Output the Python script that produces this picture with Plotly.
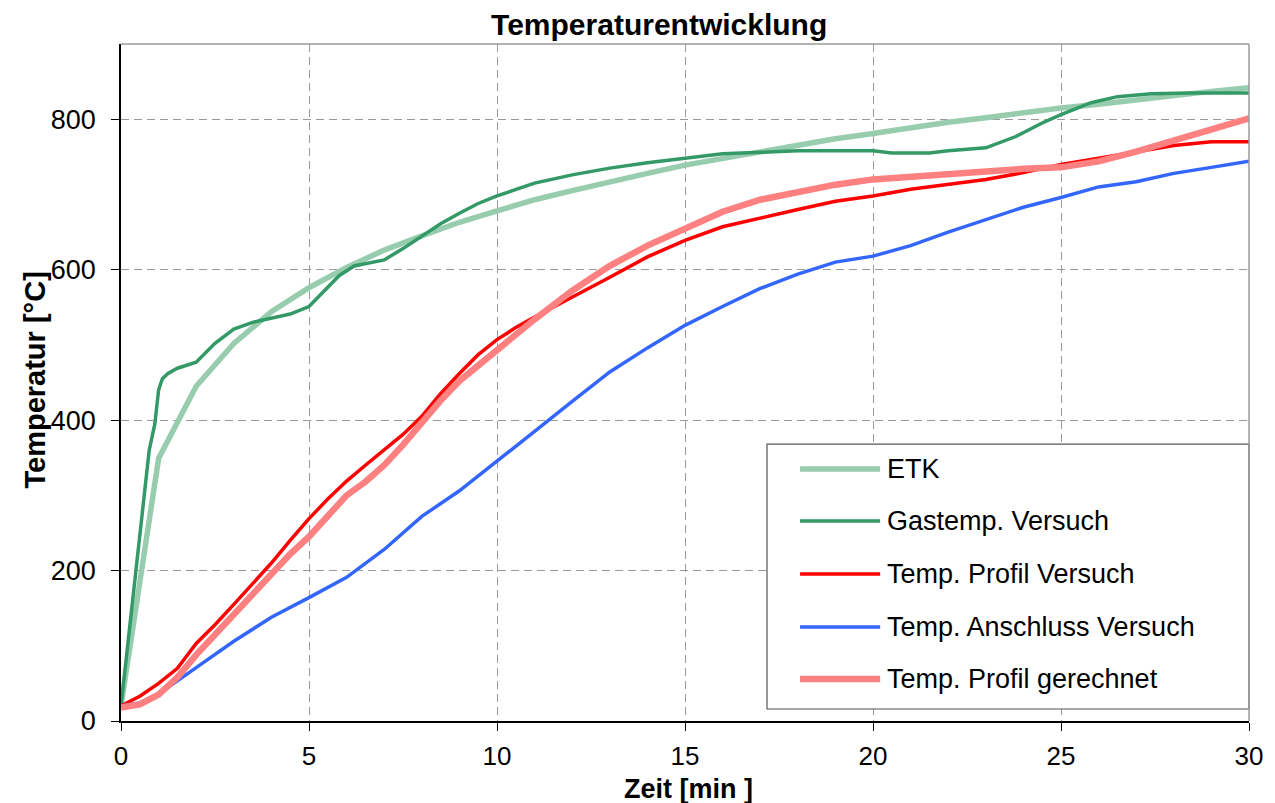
import plotly.graph_objects as go

# Time axis (min) and temperatures (°C) for each series
etk_t = list(range(0, 31))
etk_T = [20, 349, 445, 502, 544, 576, 603, 626, 645, 663, 678, 693, 705, 717, 728,
         739, 748, 757, 766, 774, 781, 789, 796, 802, 809, 815, 820, 826, 832, 837, 842]

gas_t = [0, 0.3, 0.6, 0.75, 0.9, 1.0, 1.1, 1.25, 1.5, 2.0, 2.5, 3.0, 3.5, 4.0, 4.5,
         5.0, 5.5, 5.8, 6.2, 7.0, 7.5, 8.0, 8.5, 9.0, 9.5, 10, 11, 12, 13, 14, 15,
         16, 17, 18, 19, 20, 20.5, 21.5, 22, 23, 23.8, 24.5, 25, 25.8, 26.5, 27.4,
         28.4, 30]
gas_T = [20, 160, 295, 360, 395, 440, 455, 462, 469, 477, 502, 521, 530, 536, 541,
         551, 576, 592, 605, 613, 628, 645, 661, 675, 688, 698, 715, 726, 735, 742, 748,
         754, 756, 758, 758, 758, 755, 755, 758, 762, 777, 795, 806, 822, 830, 834,
         835, 835]

profil_t = [0, 0.5, 1.0, 1.5, 2.0, 2.5, 3.0, 3.5, 4.0, 4.5, 5.0, 5.5, 6.0, 6.5, 7.0,
            7.5, 8.0, 8.5, 9.0, 9.5, 10, 10.5, 11, 11.5, 12, 13, 14, 15, 16, 17, 18,
            19, 20, 21, 22, 23, 24, 25, 26, 27, 28, 29, 30]
profil_T = [20, 33, 50, 70, 103, 128, 155, 182, 210, 240, 269, 295, 319, 340, 360,
            381, 405, 435, 462, 487, 507, 523, 537, 550, 563, 590, 617, 639, 657, 669, 680,
            691, 698, 707, 714, 720, 729, 740, 748, 757, 765, 770, 770]

anschluss_t = [0, 0.5, 1.0, 1.5, 2.0, 3, 4, 5, 6, 7, 8, 9, 10, 11, 12, 13, 14, 15,
               16, 17, 18, 19, 20, 21, 22, 23, 24, 25, 26, 27, 28, 29, 30]
anschluss_T = [20, 24, 36, 53, 71, 106, 138, 164, 191, 228, 272, 306, 345, 385, 425,
               464, 496, 526, 551, 575, 594, 610, 618, 632, 650, 667, 683, 696, 710,
               717, 728, 736, 744]

rechnung_t = [0, 0.5, 1.0, 1.5, 2.0, 2.5, 3.0, 3.5, 4.0, 4.5, 5.0, 5.5, 6.0, 6.5, 7.0,
              7.5, 8.0, 8.5, 9.0, 9.5, 10, 10.5, 11, 12, 13, 14, 15, 16, 17, 18, 19,
              20, 21, 22, 23, 24, 25, 26, 27, 28, 29, 30]
rechnung_T = [18, 22, 35, 58, 88, 115, 142, 170, 198, 222, 245, 272, 300, 318, 340,
              367, 397, 426, 452, 473, 493, 514, 534, 572, 605, 632, 655, 677, 693, 704, 713,
              720, 724, 728, 731, 734, 736, 744, 757, 772, 787, 801]

series = [
    ("ETK", etk_t, etk_T, "#97CDAE", 5.5),
    ("Gastemp. Versuch", gas_t, gas_T, "#339966", 3.5),
    ("Temp. Profil Versuch", profil_t, profil_T, "#FF0000", 3.5),
    ("Temp. Anschluss Versuch", anschluss_t, anschluss_T, "#3366FF", 3.5),
    ("Temp. Profil gerechnet", rechnung_t, rechnung_T, "#FF8080", 6.5),
]

FONT = "Liberation Sans, Arial, sans-serif"

fig = go.Figure()
for name, t, T, color, width in series:
    fig.add_trace(go.Scatter(x=t, y=T, mode="lines", name=name, showlegend=False,
                             line=dict(color=color, width=width)))

# Hand-built legend box in the lower right of the plot area
shapes = [
    dict(type="rect", xref="paper", yref="paper", x0=0.5727, x1=1.0, y0=0.0177, y1=0.409,
         line=dict(color="#555555", width=1.2), fillcolor="white", layer="above"),
    # top and right frame of the plot area
    dict(type="line", xref="paper", yref="paper", x0=0, x1=1, y0=1, y1=1,
         line=dict(color="#9a9a9a", width=1.5)),
    dict(type="line", xref="paper", yref="paper", x0=1, x1=1, y0=0, y1=1,
         line=dict(color="#9a9a9a", width=1.5)),
]
annotations = []
rows = [0.3722, 0.2954, 0.2171, 0.1388, 0.0620]
for (name, _, _, color, width), yy in zip(series, rows):
    shapes.append(dict(type="line", xref="paper", yref="paper", x0=0.602, x1=0.673,
                       y0=yy, y1=yy, line=dict(color=color, width=width), layer="above"))
    annotations.append(dict(xref="paper", yref="paper", x=0.677, y=yy, text=name,
                            showarrow=False, xanchor="left", yanchor="middle",
                            font=dict(family=FONT, size=27, color="black")))

annotations.append(dict(xref="paper", yref="paper", x=0.5035, y=-0.101, text="<b>Zeit [min ]</b>",
                        showarrow=False, xanchor="center", yanchor="middle",
                        font=dict(family=FONT, size=27, color="black")))
annotations.append(dict(xref="paper", yref="paper", x=-0.0762, y=0.503, text="<b>Temperatur [°C]</b>",
                        showarrow=False, xanchor="center", yanchor="middle", textangle=-90,
                        font=dict(family=FONT, size=29, color="black")))

fig.update_layout(
    width=1275, height=803,
    margin=dict(l=121, r=26, t=44, b=82),
    paper_bgcolor="white", plot_bgcolor="white",
    title=dict(text="<b>Temperaturentwicklung</b>", xref="container", yref="container",
               x=0.517, y=0.970, xanchor="center", yanchor="middle",
               font=dict(family=FONT, size=30, color="black")),
    shapes=shapes, annotations=annotations,
    xaxis=dict(range=[0, 30], dtick=5, tick0=0, showgrid=True, gridcolor="#9a9a9a",
               griddash="8px,5px", gridwidth=1, zeroline=False, showline=True,
               linecolor="black", linewidth=1.5, ticks="outside", ticklen=8,
               tickcolor="black", ticklabelstandoff=3,
               tickfont=dict(family=FONT, size=26, color="black")),
    yaxis=dict(range=[0, 900], dtick=200, tick0=0, showgrid=True, gridcolor="#9a9a9a",
               griddash="8px,5px", gridwidth=1, zeroline=False, showline=True,
               linecolor="black", linewidth=1.5, ticks="outside", ticklen=8,
               tickcolor="black", ticklabelstandoff=10,
               tickfont=dict(family=FONT, size=27, color="black")),
)

fig.write_html("out.html")
